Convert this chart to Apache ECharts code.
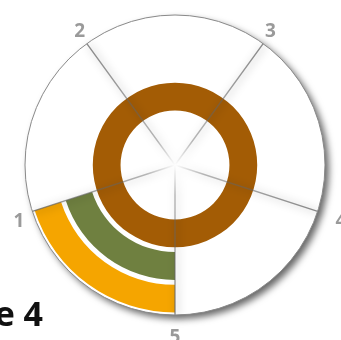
<!DOCTYPE html>
<html>
<head>
<meta charset="utf-8">
<script src="https://cdn.jsdelivr.net/npm/echarts@6/dist/echarts.min.js"></script>
<style>
html,body{margin:0;padding:0;background:#fff;}
#chart{width:341px;height:340px;}
</style>
</head>
<body>
<div id="chart"></div>
<script>
// ---- data ----
var rings = ['Inner', 'Middle', 'Outer'];
var ringValues = [5, 1, 1];
var ringColors = ['#A35C05', '#6F8040', '#F5A500'];
var tickLabels = ['5', '1', '2', '3', '4'];
var titleText = 'Figure 4';

var CX = 175, CY = 165, R = 150;

var chart = echarts.init(document.getElementById('chart'), null, {renderer: 'canvas'});

var fadeLine = {
  type: 'radial', x: CX, y: CY, r: R, global: true,
  colorStops: [
    {offset: 0, color: 'rgba(100,100,100,0)'},
    {offset: 0.2, color: 'rgba(100,100,100,0.45)'},
    {offset: 1, color: 'rgba(100,100,100,0.75)'}
  ]
};

var labelRich = {
  t0: {padding: [10, 0, 0, 0]},
  t1: {padding: [0, 5, 0, 0]},
  t2: {padding: [0, 0, 0, 0]},
  t3: {padding: [0, 0, 0, 0]},
  t4: {padding: [0, 0, 0, 15]}
};

chart.setOption({
  animation: false,
  backgroundColor: '#fff',
  polar: [
    {center: [CX, CY], radius: [52, R]},
    {center: [CX, CY], radius: [0, R]}
  ],
  angleAxis: [
    {polarIndex: 0, type: 'value', min: 0, max: 5, interval: 1, startAngle: 270, clockwise: true, show: false},
    {
      polarIndex: 1, type: 'value', min: 0, max: 5, interval: 1, startAngle: 270, clockwise: true, z: 10,
      axisLine: {show: true, lineStyle: {color: '#8a8a8a', width: 1}},
      axisTick: {show: false},
      axisLabel: {
        show: true, margin: 3, color: '#9a9a9a', fontSize: 19, fontWeight: 'bold',
        fontFamily: 'Open Sans',
        formatter: function (v) { return '{t' + v + '|' + tickLabels[v] + '}'; },
        rich: labelRich
      },
      splitLine: {
        show: true,
        lineStyle: {color: fadeLine, width: 1.4, shadowBlur: 8, shadowColor: 'rgba(0,0,0,0.55)', shadowOffsetX: 2, shadowOffsetY: 1}
      },
      splitArea: {show: false}
    }
  ],
  radiusAxis: [
    {polarIndex: 0, type: 'category', data: rings, show: false},
    {polarIndex: 1, type: 'value', show: false}
  ],
  series: [
    {
      type: 'pie', silent: true, z: 0,
      center: [CX, CY], radius: [0, R],
      label: {show: false}, labelLine: {show: false},
      itemStyle: {color: '#fff', borderWidth: 0, shadowBlur: 7, shadowOffsetX: 4, shadowOffsetY: 4, shadowColor: 'rgba(0,0,0,0.6)'},
      data: [1]
    },
    {
      type: 'bar', coordinateSystem: 'polar', polarIndex: 0, z: 2,
      barCategoryGap: '15%',
      data: ringValues.map(function (v, i) { return {value: v, itemStyle: {color: ringColors[i]}}; })
    }
  ],
  graphic: [
    {
      type: 'text', x: 43, y: 316,
      style: {text: titleText, align: 'right', verticalAlign: 'middle', font: 'bold 34px "Open Sans"', fill: '#111'}
    }
  ]
});
</script>
</body>
</html>
